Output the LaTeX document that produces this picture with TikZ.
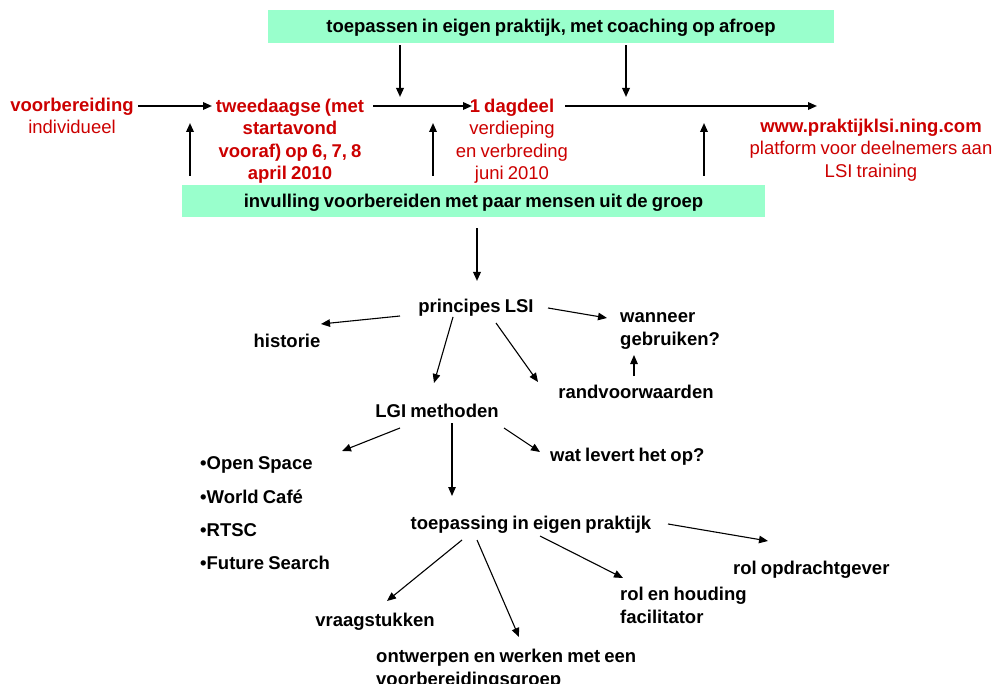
\documentclass[tikz,border=0pt]{standalone}
\usepackage{fontspec}
\setmainfont{Liberation Sans}[WordSpace=0.8]
\usetikzlibrary{arrows.meta}
\definecolor{lsired}{RGB}{204,0,0}
\definecolor{lsigreen}{RGB}{153,255,204}
\newcommand\fstrut{\rule{0pt}{14pt}}
\tikzset{
  base/.style={inner sep=0pt, font=\fontsize{18.5}{22.3}\selectfont},
  redt/.style={base, text=lsired, align=center},
  blk/.style={base, font=\fontsize{18.5}{22.3}\selectfont\bfseries, text=black},
  gbox/.style={blk, fill=lsigreen, text height=13pt, text depth=0pt},
  bigarr/.style={line width=1.8pt, -{Triangle[length=9pt,width=7.5pt]}},
  mmarr/.style={line width=1.1pt, -{Triangle[length=9pt,width=7.5pt]}},
}
\begin{document}
\begin{tikzpicture}[x=1pt,y=-1pt]
\useasboundingbox (0,0) rectangle (995,684);

% green boxes
\node[gbox, minimum width=566pt, minimum height=33pt] (top) at (551,26.5) {toepassen in eigen praktijk, met coaching op afroep};
\node[gbox, minimum width=583pt, minimum height=32pt] (bot) at (473.5,201) {invulling voorbereiden met paar mensen uit de groep};

% red timeline texts
\node[redt, anchor=north] (vb) at (72,97.5) {\fstrut\textbf{voorbereiding}\\individueel};
\node[redt, anchor=north, font=\fontsize{18.5}{22.3}\selectfont\bfseries] (tw) at (290,98.5) {\fstrut tweedaagse (met\\startavond\\vooraf) op 6, 7, 8\\april 2010};
\node[redt, anchor=north] (dd) at (512,98.5) {\fstrut\textbf{1 dagdeel}\\verdieping\\en verbreding\\juni 2010};
\node[redt, anchor=north] (www) at (871,118.5) {\fstrut\textbf{www.praktijklsi.ning.com}\\platform voor deelnemers aan\\LSI training};

% timeline arrows
\coordinate (h1a) at (138,106); \coordinate (h1b) at (212,106);
\coordinate (h2a) at (373,106); \coordinate (h2b) at (472,106);
\coordinate (h3a) at (565,106); \coordinate (h3b) at (817,106);
\draw[bigarr] (h1a) -- (h1b);
\draw[bigarr] (h2a) -- (h2b);
\draw[bigarr] (h3a) -- (h3b);

\coordinate (d1) at (400,97); \coordinate (d2) at (626,97);
\draw[bigarr, shorten <=2pt] (top.south -| d1) -- (d1);
\draw[bigarr, shorten <=2pt] (top.south -| d2) -- (d2);

\coordinate (u1) at (190,123); \coordinate (u2) at (433,123); \coordinate (u3) at (704,123);
\draw[bigarr, shorten <=9pt] (bot.north -| u1) -- (u1);
\draw[bigarr, shorten <=9pt] (bot.north -| u2) -- (u2);
\draw[bigarr, shorten <=9pt] (bot.north -| u3) -- (u3);

\coordinate (d3) at (477,281);
\draw[bigarr, shorten <=11pt] (bot.south -| d3) -- (d3);

% mind map nodes
\node[blk, anchor=base] (princ) at (476,312.5) {principes LSI};
\node[blk, anchor=base] (hist) at (287,347.5) {historie};
\node[blk, anchor=north west, align=left] (wann) at (620,308.5) {\fstrut wanneer\\gebruiken?};
\node[blk, anchor=base] (rand) at (636,398.5) {randvoorwaarden};
\node[blk, anchor=base] (lgi) at (437,417.5) {LGI methoden};
\node[blk, anchor=base west] (wat) at (550,461.5) {wat levert het op?};
\node[blk, anchor=north west, align=left, font=\fontsize{18.5}{33.3}\selectfont\bfseries] (list) at (200,455.5) {\fstrut•Open Space\\•World Café\\•RTSC\\•Future Search};
\node[blk, anchor=base] (toep) at (531,529.5) {toepassing in eigen praktijk};
\node[blk, anchor=base west] (opdr) at (733,574.5) {rol opdrachtgever};
\node[blk, anchor=north west, align=left] (rol) at (620,586.5) {\fstrut rol en houding\\facilitator};
\node[blk, anchor=base] (vraag) at (375,626.5) {vraagstukken};
\node[blk, anchor=north west, align=left] (ontw) at (376,648.5) {\fstrut ontwerpen en werken met een\\voorbereidingsgroep};

% mind map connector end points
\coordinate (m1a) at (400,316); \coordinate (m1b) at (321,324);
\coordinate (m2a) at (548,308); \coordinate (m2b) at (607,318);
\coordinate (m3a) at (453,317); \coordinate (m3b) at (434,383);
\coordinate (m4a) at (496,323); \coordinate (m4b) at (538,382);
\coordinate (m5a) at (634,376); \coordinate (m5b) at (634,355);
\coordinate (m6a) at (400,428); \coordinate (m6b) at (342,451);
\coordinate (m7a) at (452,423); \coordinate (m7b) at (452,496);
\coordinate (m8a) at (504,428); \coordinate (m8b) at (540,452);
\coordinate (m9a) at (462,540); \coordinate (m9b) at (387,601);
\coordinate (m10a) at (477,540); \coordinate (m10b) at (519,637);
\coordinate (m11a) at (540,536); \coordinate (m11b) at (623,578);
\coordinate (m12a) at (668,524); \coordinate (m12b) at (768,541);

\draw[mmarr] (m1a) -- (m1b);
\draw[mmarr] (m2a) -- (m2b);
\draw[mmarr] (m3a) -- (m3b);
\draw[mmarr] (m4a) -- (m4b);
\draw[mmarr] (m5a) -- (m5b);
\draw[mmarr] (m6a) -- (m6b);
\draw[mmarr] (m7a) -- (m7b);
\draw[mmarr] (m8a) -- (m8b);
\draw[mmarr] (m9a) -- (m9b);
\draw[mmarr] (m10a) -- (m10b);
\draw[mmarr] (m11a) -- (m11b);
\draw[mmarr] (m12a) -- (m12b);
\end{tikzpicture}
\end{document}
